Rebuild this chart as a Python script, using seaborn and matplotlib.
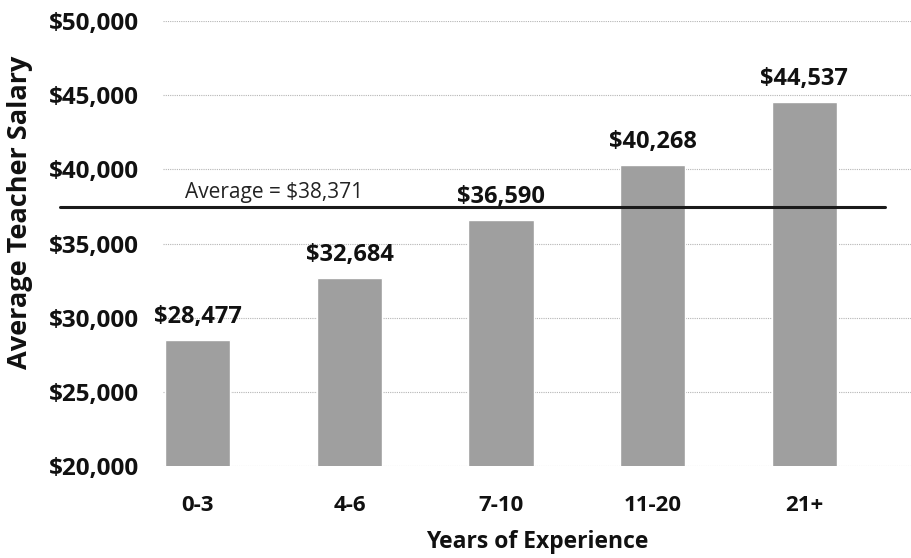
import matplotlib
matplotlib.use("Agg")
import matplotlib.pyplot as plt
import seaborn as sns

experience = ["0-3", "4-6", "7-10", "11-20", "21+"]
salaries = [28477, 32684, 36590, 40268, 44537]
average_label = "Average = $38,371"
average_drawn_at = 37450
y_ticks = [20000, 25000, 30000, 35000, 40000, 45000, 50000]

sns.set_theme(style="white")
plt.rcParams["font.family"] = ["Open Sans", "DejaVu Sans"]

fig = plt.figure(figsize=(9.12, 5.58), dpi=100)
ax = fig.add_axes([0.1787, 0.165, 0.8213, 0.797])

sns.barplot(x=experience, y=salaries, color="#9f9f9f", saturation=1, width=0.43, ax=ax)

ax.set_ylim(20000, 50000)
ax.set_xlim(-0.23, 4.71)
ax.set_yticks(y_ticks)
ax.set_yticklabels([f"${v:,}" for v in y_ticks])
ax.yaxis.grid(True, color="#b5b5b5", linewidth=0.8, linestyle=(0, (1, 1)))
ax.set_axisbelow(True)
for side in ax.spines.values():
    side.set_visible(False)
ax.tick_params(axis="both", length=0, labelcolor="#111111")
ax.tick_params(axis="y", pad=17, labelsize=17.5)
ax.tick_params(axis="x", pad=21, labelsize=16)
for label in ax.get_xticklabels() + ax.get_yticklabels():
    label.set_fontweight("bold")

for i, v in enumerate(salaries):
    ax.annotate(f"${v:,}", (i, v), xytext=(0, 8), textcoords="offset points",
                ha="center", va="bottom", fontsize=17, fontweight="bold", color="#111111")

ax.axhline(average_drawn_at, xmin=-0.1375, xmax=0.964, color="#1a1a1a", linewidth=2.2, clip_on=False)
ax.annotate(average_label, (0.029, average_drawn_at), xycoords=("axes fraction", "data"),
            xytext=(0, 3), textcoords="offset points", ha="left", va="bottom",
            fontsize=15, color="#222222", annotation_clip=False)

ax.set_xlabel("Years of Experience", fontsize=16.5, fontweight="bold", labelpad=10, color="#111111")
ax.set_ylabel("Average Teacher Salary", fontsize=19.5, fontweight="bold", color="#111111")
ax.yaxis.set_label_coords(-0.1736, 0.571)

fig.savefig("out.png", dpi=100)
